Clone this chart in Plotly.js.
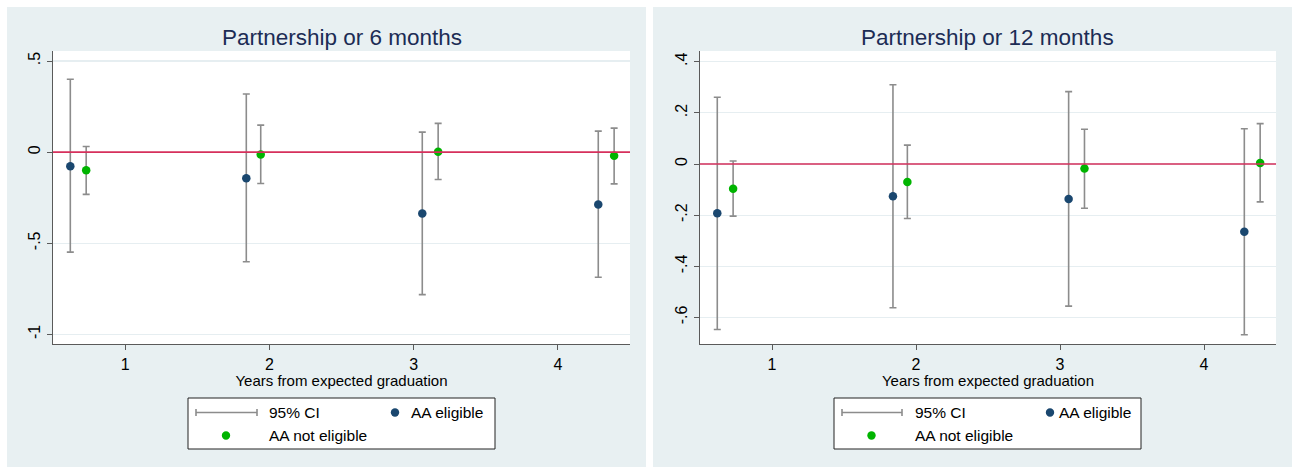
<!DOCTYPE html>
<html>
<head>
<meta charset="utf-8">
<script src="https://cdn.plot.ly/plotly-3.0.1.min.js"></script>
<style>html,body{margin:0;padding:0;background:#fff}</style>
</head>
<body>
<div id="chart" style="width:1297px;height:467px"></div>
<script>
// ---- data ----
const panelTitles = ["Partnership or 6 months", "Partnership or 12 months"];
const xTitle = "Years from expected graduation";
const xTickVals = [1, 2, 3, 4];
const xTickText = ["1", "2", "3", "4"];
// horizontal positions (groups are dodged around each year)
const xEligible = [0.62, 1.84, 3.06, 4.28];
const xNotEligible = [0.73, 1.94, 3.17, 4.39];

// Partnership or 6 months
const est6Eligible = [-0.077, -0.143, -0.337, -0.287];
const lo6Eligible = [-0.549, -0.602, -0.782, -0.687];
const hi6Eligible = [0.400, 0.319, 0.110, 0.115];
const est6NotEligible = [-0.100, -0.013, 0.002, -0.020];
const lo6NotEligible = [-0.232, -0.172, -0.150, -0.174];
const hi6NotEligible = [0.031, 0.148, 0.158, 0.132];
const yTickVals6 = [-1, -0.5, 0, 0.5];
const yTickText6 = ["-1", "-.5", "0", ".5"];

// Partnership or 12 months
const est12Eligible = [-0.193, -0.126, -0.137, -0.265];
const lo12Eligible = [-0.647, -0.562, -0.556, -0.668];
const hi12Eligible = [0.261, 0.310, 0.283, 0.138];
const est12NotEligible = [-0.097, -0.070, -0.018, 0.004];
const lo12NotEligible = [-0.204, -0.213, -0.173, -0.148];
const hi12NotEligible = [0.012, 0.074, 0.136, 0.158];
const yTickVals12 = [-0.6, -0.4, -0.2, 0, 0.2, 0.4];
const yTickText12 = ["-.6", "-.4", "-.2", "0", ".2", ".4"];

const legendLabels = ["95% CI", "AA eligible", "AA not eligible"];

// ---- styling ----
const W = 1297, H = 467;
const FONT = "Liberation Sans, Arial, Helvetica, sans-serif";
const PANEL_BG = "#e8f0f2";
const BLUE = "#1a476f";
const GREEN = "#00b400";
const CI_GREY = "#8c8c8c";
const REF_RED = "#d6305c";
const AXIS_GREY = "#5a5a5a";
const GRID = "#e6eef1";
const TITLE_NAVY = "#1c2c55";

const px = v => v / W;          // pixel x -> paper
const py = v => 1 - v / H;      // pixel y -> paper

function series(x, est, lo, hi, color, xa, ya) {
  return {
    type: "scatter", mode: "markers", x: x, y: est, xaxis: xa, yaxis: ya,
    showlegend: false, hoverinfo: "skip",
    marker: {color: color, size: 8.5, line: {width: 0}},
    error_y: {
      type: "data", symmetric: false,
      array: hi.map((h, i) => h - est[i]),
      arrayminus: lo.map((l, i) => est[i] - l),
      color: CI_GREY, thickness: 1.6, width: 3.5
    }
  };
}

const traces = [
  series(xEligible, est6Eligible, lo6Eligible, hi6Eligible, BLUE, "x", "y"),
  series(xNotEligible, est6NotEligible, lo6NotEligible, hi6NotEligible, GREEN, "x", "y"),
  series(xEligible, est12Eligible, lo12Eligible, hi12Eligible, BLUE, "x2", "y2"),
  series(xNotEligible, est12NotEligible, lo12NotEligible, hi12NotEligible, GREEN, "x2", "y2")
];

const yDomain = [py(344), py(51)];

function xAxis(domain) {
  return {
    domain: domain, range: [0.5, 4.5], fixedrange: true,
    tickmode: "array", tickvals: xTickVals, ticktext: xTickText,
    ticks: "outside", ticklen: 5, tickwidth: 1, tickcolor: AXIS_GREY,
    showline: true, linecolor: AXIS_GREY, linewidth: 1.3,
    showgrid: false, zeroline: false,
    tickfont: {family: FONT, size: 16, color: "#000"},
    title: {text: xTitle, font: {family: FONT, size: 15, color: "#000"}, standoff: 1}
  };
}
function yAxis(range, vals, text, anchor) {
  return {
    domain: yDomain, range: range, fixedrange: true, anchor: anchor,
    tickmode: "array", tickvals: vals, ticktext: text, tickangle: -90,
    ticks: "outside", ticklen: 5, tickwidth: 1, tickcolor: AXIS_GREY,
    showline: true, linecolor: AXIS_GREY, linewidth: 1.3,
    showgrid: true, gridcolor: GRID, gridwidth: 1.2, zeroline: false,
    tickfont: {family: FONT, size: 16, color: "#000"}
  };
}

const panels = [
  {x0: 7, x1: 646, plot: [53, 630], xa: "x", ya: "y",
   box: [188, 495], ciLine: [196, 257], text: 266.5, blueDot: 395, blueText: 409, greenDot: 226},
  {x0: 653, x1: 1292, plot: [700, 1276], xa: "x2", ya: "y2",
   box: [834, 1141], ciLine: [842, 902], text: 912.5, blueDot: 1050, blueText: 1057, greenDot: 871.5}
];

const shapes = [];
const annotations = [];
const row1 = 412.5, row2 = 435.5;

panels.forEach((p, k) => {
  // panel background
  shapes.push({type: "rect", xref: "paper", yref: "paper", layer: "below",
    x0: px(p.x0), x1: px(p.x1), y0: 0, y1: py(7),
    fillcolor: PANEL_BG, line: {width: 0}});
  // white plotting region
  shapes.push({type: "rect", xref: p.xa + " domain", yref: p.ya + " domain", layer: "below",
    x0: 0, x1: 1, y0: 0, y1: 1, fillcolor: "#fff", line: {width: 0}});
  // reference line at zero
  shapes.push({type: "line", xref: p.xa + " domain", yref: p.ya, layer: "above",
    x0: 0, x1: 1, y0: 0, y1: 0, line: {color: REF_RED, width: 1.6}});

  // title
  annotations.push({text: panelTitles[k], xref: "paper", yref: "paper",
    x: px((p.plot[0] + p.plot[1]) / 2), y: py(37), xanchor: "center", yanchor: "middle",
    showarrow: false, font: {family: FONT, size: 22.5, color: TITLE_NAVY}});

  // legend frame
  shapes.push({type: "rect", xref: "paper", yref: "paper",
    x0: px(p.box[0]), x1: px(p.box[1]), y0: py(449), y1: py(398),
    fillcolor: "#fff", line: {color: "#222", width: 1}});
  // CI key: horizontal bar with end caps
  shapes.push({type: "line", xref: "paper", yref: "paper",
    x0: px(p.ciLine[0]), x1: px(p.ciLine[1]), y0: py(row1), y1: py(row1),
    line: {color: CI_GREY, width: 1.6}});
  [p.ciLine[0], p.ciLine[1]].forEach(cx => shapes.push({type: "line", xref: "paper", yref: "paper",
    x0: px(cx), x1: px(cx), y0: py(row1 - 3.5), y1: py(row1 + 3.5),
    line: {color: CI_GREY, width: 1.6}}));
  // marker keys
  [[p.blueDot, row1, BLUE], [p.greenDot, row2, GREEN]].forEach(([cx, cy, c]) =>
    shapes.push({type: "circle", xref: "paper", yref: "paper",
      x0: px(cx - 4.2), x1: px(cx + 4.2), y0: py(cy + 4.2), y1: py(cy - 4.2),
      fillcolor: c, line: {width: 0}}));
  // legend labels
  [[legendLabels[0], p.text, row1], [legendLabels[1], p.blueText, row1], [legendLabels[2], p.text, row2]]
    .forEach(([t, lx, ly]) => annotations.push({text: t, xref: "paper", yref: "paper",
      x: px(lx), y: py(ly), xanchor: "left", yanchor: "middle", showarrow: false,
      font: {family: FONT, size: 15.5, color: "#000"}}));
});

const layout = {
  width: W, height: H,
  margin: {l: 0, r: 0, t: 0, b: 0},
  paper_bgcolor: "#fff", plot_bgcolor: "#fff",
  showlegend: false,
  font: {family: FONT},
  xaxis: xAxis([px(53), px(630)]),
  xaxis2: xAxis([px(700), px(1276)]),
  yaxis: yAxis([-1.053, 0.555], yTickVals6, yTickText6, "x"),
  yaxis2: yAxis([-0.704, 0.442], yTickVals12, yTickText12, "x2"),
  shapes: shapes,
  annotations: annotations
};
layout.xaxis.anchor = "y";
layout.xaxis2.anchor = "y2";

Plotly.newPlot("chart", traces, layout, {staticPlot: true, displayModeBar: false});
</script>
</body>
</html>
